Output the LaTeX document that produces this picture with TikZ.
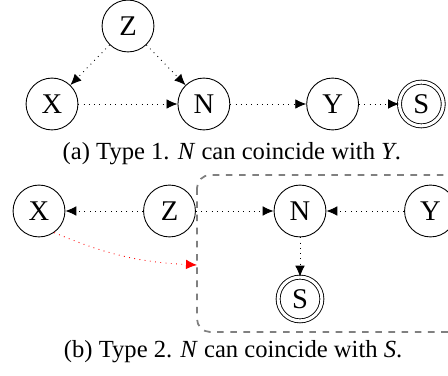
\documentclass[tikz,border=0pt]{standalone}
\usepackage{fontspec}
\setmainfont{Liberation Serif}
\usetikzlibrary{shapes,arrows,arrows.meta,positioning,calc}
\tikzstyle{state} = [circle, draw, minimum size=0.83cm, inner sep=0pt, font=\fontsize{13}{15}\selectfont]
\tikzstyle{sink} = [circle, draw, double, double distance=1.4pt, minimum size=0.7cm, inner sep=0pt, font=\fontsize{13}{15}\selectfont]
\tikzstyle{arrow} = [dotted,-{Latex[length=5pt,width=4.4pt]}]
\tikzstyle{caption} = [font=\fontsize{11.2}{13}\selectfont]

\begin{document}
\begin{tikzpicture}
    \useasboundingbox (0,0) rectangle (7.168,-6.016);
    % (a) type 1
    \node[state] (Xa) at (0.832,-1.664) {X};
    \node[state] (Za) at ($(Xa)+(1.216,1.248)$) {Z};
    \node[state, right of=Xa, node distance=2.43cm] (Na) {N};
    \node[state, right of=Na, node distance=2.06cm] (Ya) {Y};
    \node[sink, right of=Ya, node distance=1.42cm] (Sa) {S};
    \draw[arrow] (Za) -- (Xa);
    \draw[arrow] (Za) -- (Na);
    \draw[arrow] (Xa) -- (Na);
    \draw[arrow] (Na) -- (Ya);
    \draw[arrow] (Ya) -- (Sa);
    \node[caption] (capa) at (3.71,-2.45) {(a) Type 1. \textit{N} can coincide with \textit{Y}.};
    % (b) type 2
    \draw[gray, thick, dashed, rounded corners=6pt] (3.152,-2.8) rectangle (7.6,-5.312);
    \node[state] (Xb) at (0.624,-3.376) {X};
    \node[state, right of=Xb, node distance=2.088cm] (Zb) {Z};
    \node[state, right of=Zb, node distance=2.088cm] (Nb) {N};
    \node[state, right of=Nb, node distance=2.088cm] (Yb) {Y};
    \node[sink, below of=Nb, node distance=1.408cm] (Sb) {S};
    \coordinate (boxin) at (3.152,-4.24);
    \draw[arrow] (Zb) -- (Xb);
    \draw[arrow] (Zb) -- (Nb);
    \draw[arrow] (Yb) -- (Nb);
    \draw[arrow] (Nb) -- (Sb);
    \draw[arrow, red, bend right=10] (Xb.-55) to (boxin);
    \node[caption] (capb) at (3.73,-5.63) {(b) Type 2. \textit{N} can coincide with \textit{S}.};
\end{tikzpicture}
\end{document}
